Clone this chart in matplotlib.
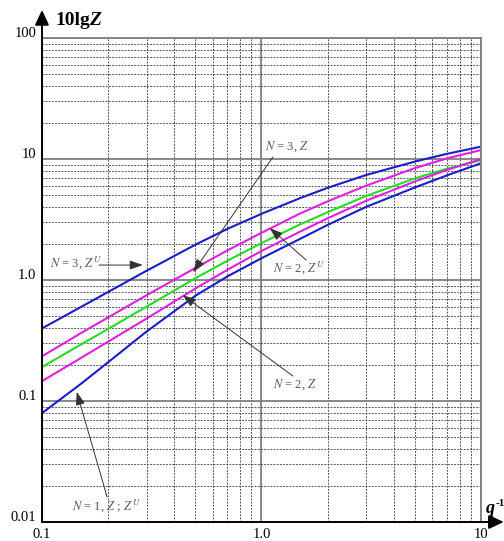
import numpy as np
import matplotlib.pyplot as plt

plt.rcParams['font.family'] = ['Liberation Serif', 'DejaVu Serif']
plt.rcParams['mathtext.fontset'] = 'stix'

# q^-1 values where the curves were read
q = [0.1, 0.15, 0.2, 0.3, 0.5, 0.7, 1.0, 1.5, 2.0, 3.0, 5.0, 7.0, 10.0]

# 10lgZ
z_n3_v = [0.398, 0.597, 0.796, 1.194, 1.959, 2.649, 3.524, 4.753, 5.781, 7.379, 9.528, 11.04, 12.65]
z_n3 = [0.234, 0.363, 0.490, 0.750, 1.259, 1.758, 2.455, 3.548, 4.467, 6.026, 8.414, 10.12, 11.86]
z_n2_v = [0.191, 0.292, 0.394, 0.603, 1.035, 1.445, 2.018, 2.884, 3.631, 4.955, 6.918, 8.318, 9.772]
z_n2 = [0.146, 0.226, 0.309, 0.481, 0.851, 1.216, 1.738, 2.512, 3.236, 4.519, 6.531, 8.128, 10.0]
z_n1 = [0.0794, 0.138, 0.209, 0.376, 0.741, 1.072, 1.514, 2.188, 2.851, 4.027, 5.821, 7.328, 9.226]

x_ticks = [0.1, 1.0, 10]
x_labels = ['0.1', '1.0', '10']
y_ticks = [0.01, 0.1, 1.0, 10, 100]
y_labels = ['0.01', '0.1', '1.0', '10', '100']

fig = plt.figure(figsize=(5.04, 5.41), dpi=100)
ax = fig.add_axes([0.0833, 0.0351, 0.871, 0.8946])
ax.set_xscale('log')
ax.set_yscale('log')
ax.set_xlim(0.1, 10)
ax.set_ylim(0.01, 100)

# grid
ax.grid(which='major', color='#7f7f7f', linestyle='-', linewidth=1.3)
ax.grid(which='minor', color='#333333', linestyle=(0, (2.2, 1.6)), linewidth=0.6)
ax.tick_params(which='both', length=0, labelleft=False, labelbottom=False)
ax.set_axisbelow(True)

for s in ['top', 'right']:
    ax.spines[s].set_color('#7f7f7f')
    ax.spines[s].set_linewidth(1.3)
for s in ['left', 'bottom']:
    ax.spines[s].set_color('black')
    ax.spines[s].set_linewidth(1.4)

# curves
ax.plot(q, z_n3_v, color='#1c1cc8', lw=1.5)
ax.plot(q, z_n3, color='#e020e0', lw=1.5)
ax.plot(q, z_n2_v, color='#22dd22', lw=1.5)
ax.plot(q, z_n2, color='#e020e0', lw=1.5)
ax.plot(q, z_n1, color='#1c1cc8', lw=1.5)

# tick labels
for v, t in zip(y_ticks, y_labels):
    ax.annotate(t, xy=(0, v), xycoords=('axes fraction', 'data'),
                xytext=(-4, 3), textcoords='offset points',
                ha='right', va='center', fontsize=10.5)
for v, t in zip(x_ticks, x_labels):
    ax.annotate(t, xy=(v, 0), xycoords=('data', 'axes fraction'),
                xytext=(0, -9), textcoords='offset points',
                ha='center', va='center', fontsize=10.5)

# axis arrows
ax.annotate('', xy=(0, 1.058), xycoords='axes fraction', xytext=(0, 0.99),
            arrowprops=dict(arrowstyle='-|>,head_length=0.9,head_width=0.42',
                            color='black', lw=1.4, shrinkA=0, shrinkB=0),
            annotation_clip=False)
ax.annotate('', xy=(1.052, 0), xycoords='axes fraction', xytext=(0.99, 0),
            arrowprops=dict(arrowstyle='-|>,head_length=0.9,head_width=0.42',
                            color='black', lw=1.4, shrinkA=0, shrinkB=0),
            annotation_clip=False)

fig.text(55 / 504, 1 - 25 / 541, '10lg', fontsize=14, fontweight='bold',
         ha='left', va='baseline')
fig.text(89 / 504, 1 - 25 / 541, 'Z', fontsize=14, fontweight='bold',
         fontstyle='italic', ha='left', va='baseline')
fig.text(486 / 504, 1 - 513 / 541, 'q', fontsize=13, fontweight='bold',
         fontstyle='italic', ha='left', va='baseline')
fig.text(496 / 504, 1 - 506 / 541, '-1', fontsize=8, fontweight='bold',
         ha='left', va='baseline')

# curve annotations
note = dict(fontsize=9, color='#555555', ha='left', va='baseline')
arrow = dict(arrowstyle='-|>,head_length=0.8,head_width=0.28', color='#333333',
             lw=0.7, shrinkA=0, shrinkB=0)

ax.text(1.04, 11.9, r'$N$ = 3, $Z$', **note)
ax.annotate('', xy=(0.488, 1.16), xytext=(1.128, 10.4), arrowprops=arrow)

ax.text(1.13, 1.16, r'$N$ = 2, $Z^{\,U}$', **note)
ax.annotate('', xy=(1.09, 2.69), xytext=(1.6, 1.46), arrowprops=arrow)

ax.text(1.13, 0.128, r'$N$ = 2, $Z$', **note)
ax.annotate('', xy=(0.438, 0.75), xytext=(1.39, 0.161), arrowprops=arrow)

ax.text(0.137, 0.0126, r'$N$ = 1, $Z$ ; $Z^{\,U}$', **note)
ax.annotate('', xy=(0.144, 0.119), xytext=(0.198, 0.0161), arrowprops=arrow)

ax.text(0.109, 1.28, r'$N$ = 3, $Z^{\,U}$', **note)
ax.annotate('', xy=(0.288, 1.33), xytext=(0.182, 1.33), arrowprops=arrow)

fig.savefig('out.png', dpi=100)
